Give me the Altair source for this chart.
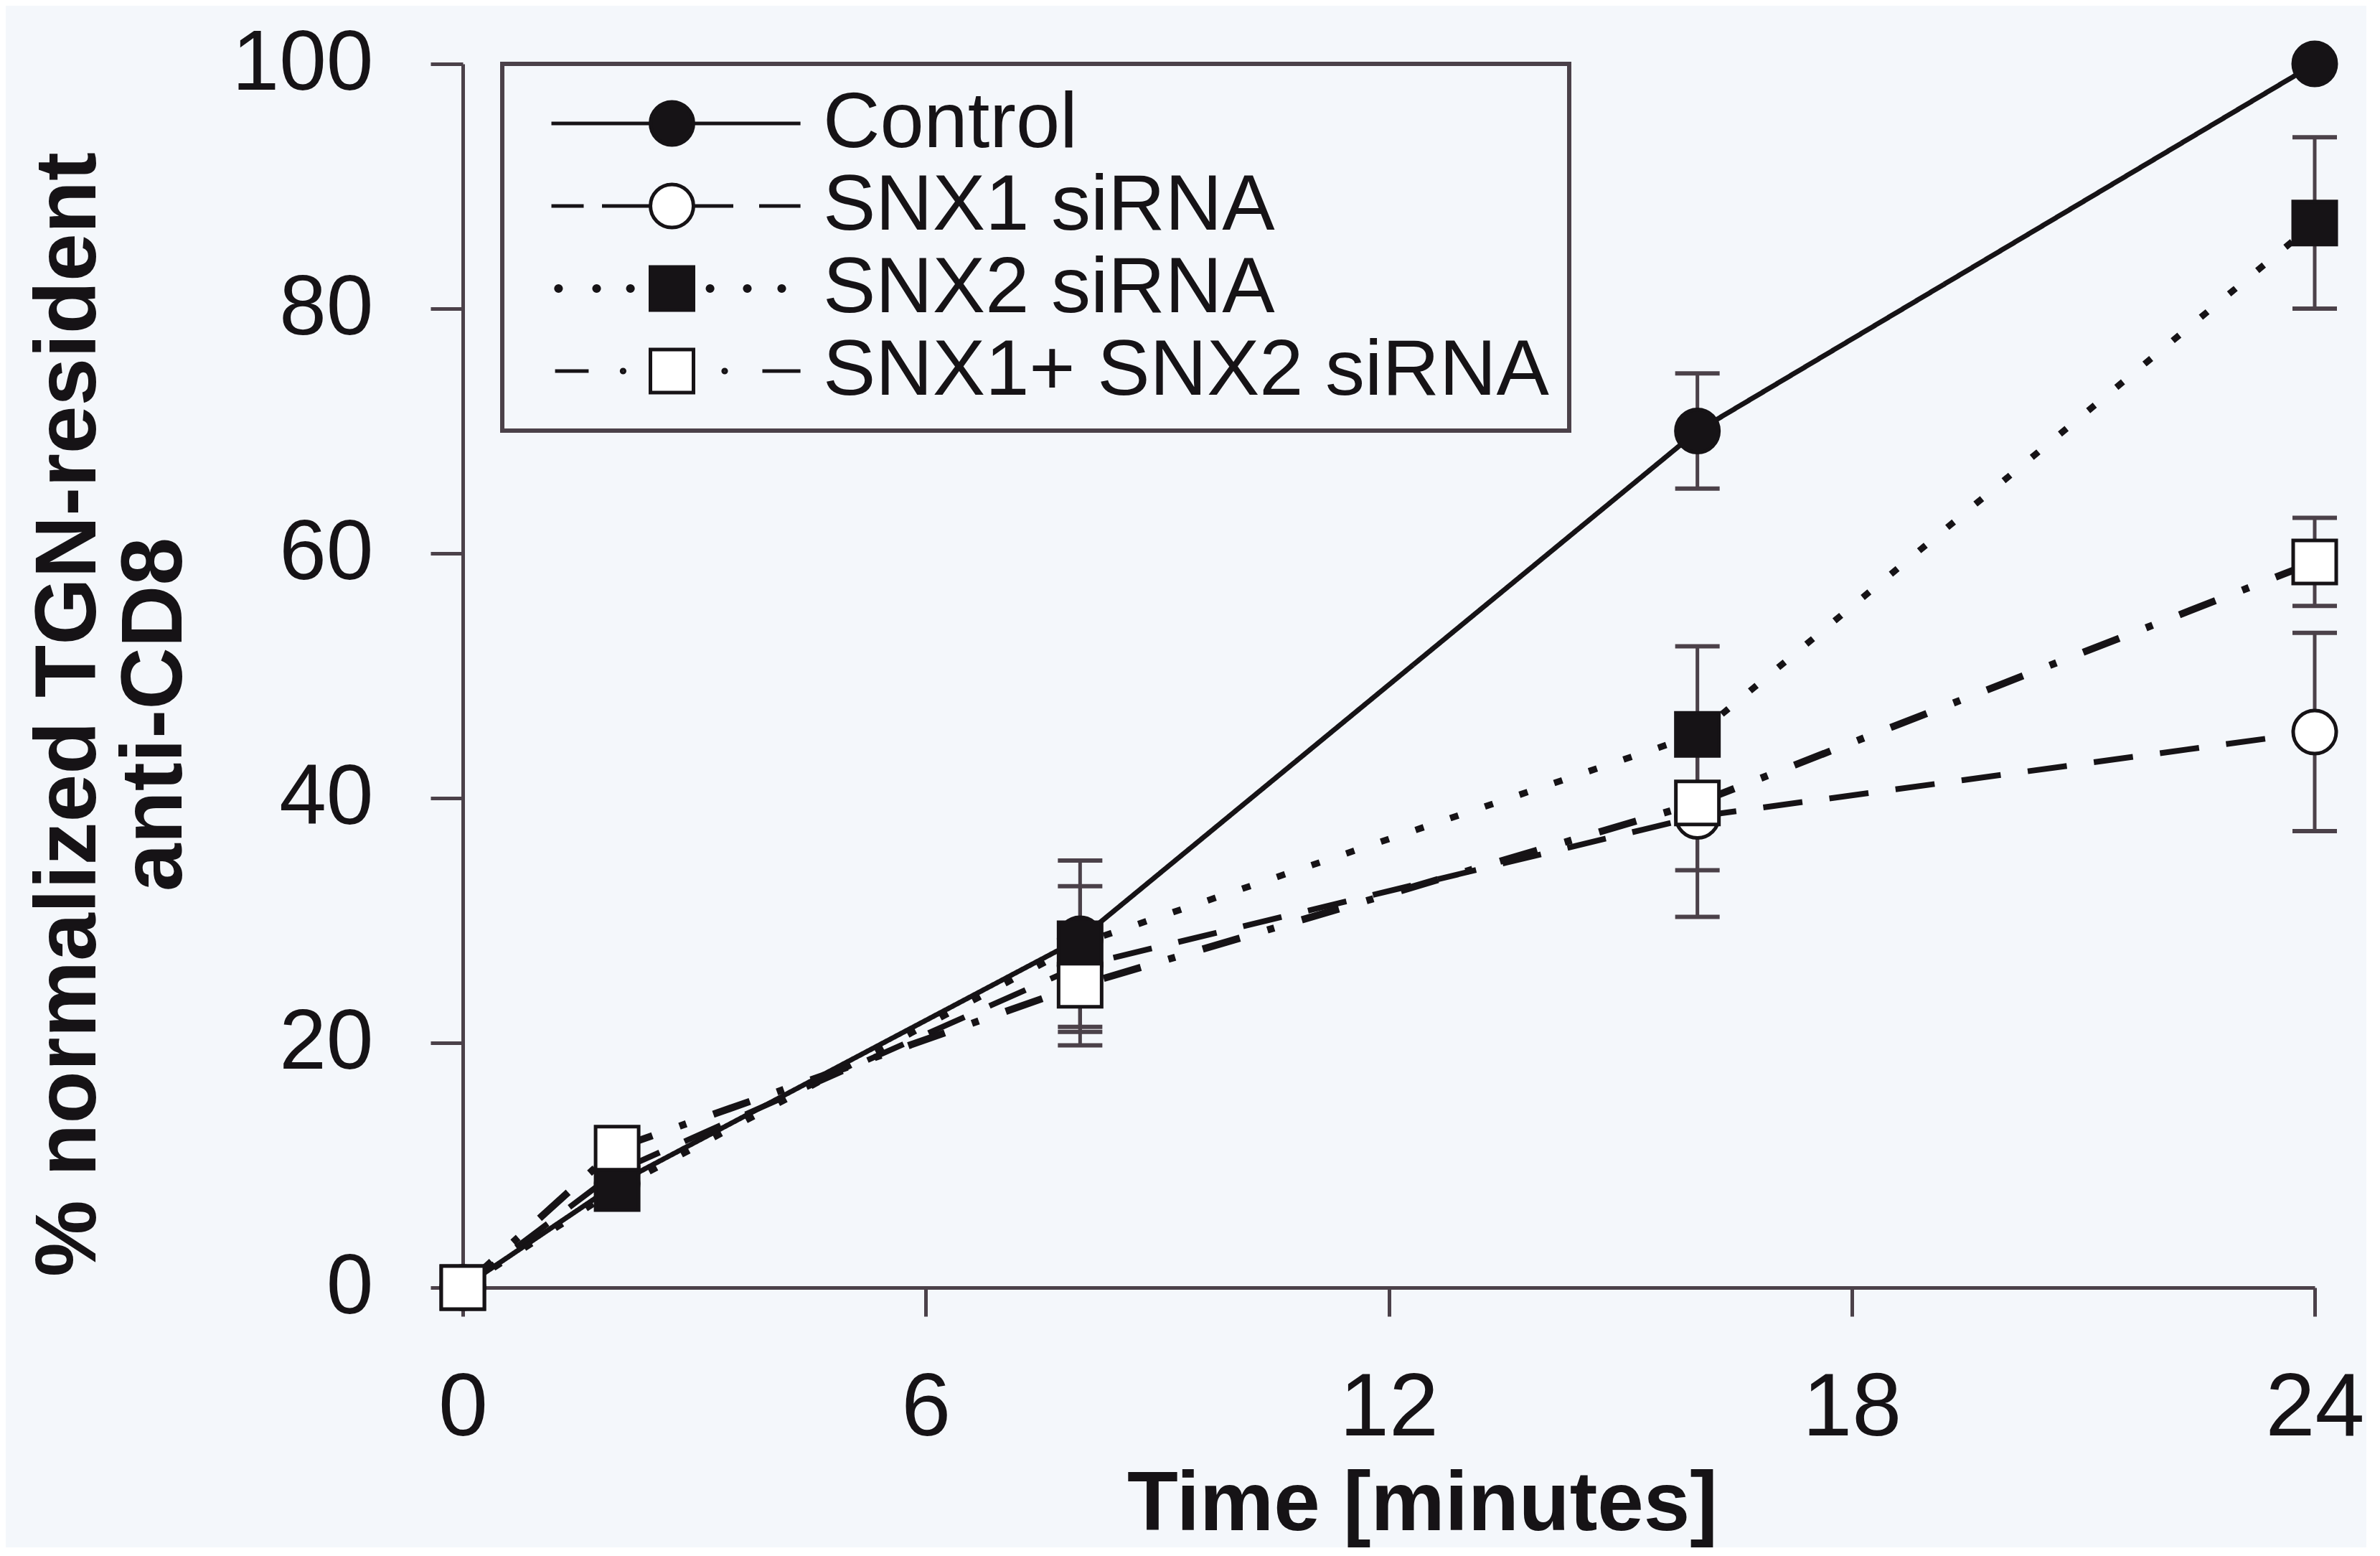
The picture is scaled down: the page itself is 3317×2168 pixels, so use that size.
import altair as alt
import pandas as pd

# ---------------- data ----------------
times = [0, 2, 8, 16, 24]
series = ["Control", "SNX1 siRNA", "SNX2 siRNA", "SNX1+ SNX2 siRNA"]
control = [0, 8.5, 28.5, 70.0, 100.0]
snx1 = [0, 9.5, 26.3, 38.5, 45.4]
snx2 = [0, 8.1, 28.1, 45.2, 87.0]
snx12 = [0, 11.4, 24.7, 39.6, 59.3]
control_err = [0, 0, 0, 4.7, 0]
snx1_err = [0, 0, 6.5, 8.2, 8.1]
snx2_err = [0, 0, 6.8, 7.2, 7.0]
snx12_err = [0, 0, 3.8, 5.5, 3.6]
x_ticks = [0, 6, 12, 18, 24]
y_ticks = [0, 20, 40, 60, 80, 100]
x_title = "Time [minutes]"
y_title = ["% normalized TGN-resident", "anti-CD8"]

values = [control, snx1, snx2, snx12]
errors = [control_err, snx1_err, snx2_err, snx12_err]

rows, err_rows = [], []
for s, vals, errs in zip(series, values, errors):
    for t, v, e in zip(times, vals, errs):
        rows.append({"series": s, "time": t, "value": v})
        if e > 0:
            err_rows.append({"series": s, "time": t, "lo": v - e, "hi": v + e})
df = pd.DataFrame(rows)
err_df = pd.DataFrame(err_rows)

# ---------------- styles ----------------
INK = "#161316"
AXIS = "#4b4149"
BG = "#f4f7fb"
FONT = "Liberation Sans"

dash_range = [[1, 0], [55, 38], [12, 39], [54, 40, 10, 40]]
width_range = [7, 10, 12, 10]
shape_range = ["circle", "circle", "square", "square"]
fill_range = [INK, "white", INK, "white"]
stroke_range = [INK, INK, INK, INK]


def hline(x1, x2):
    return f"M{x1:g} 0H{x2:g}"


def circ(cx, r):
    return (f"M{cx - r:g} 0A{r:g} {r:g} 0 1 0 {cx + r:g} 0"
            f"A{r:g} {r:g} 0 1 0 {cx - r:g} 0Z")


def sq(cx, h):
    return f"M{cx - h:g} {-h:g}H{cx + h:g}V{h:g}H{cx - h:g}Z"


C = 5.85
legend_paths = [
    hline(0.25, 4.85) + hline(6.85, 11.82) + circ(C, 1),
    hline(0.25, 1.75) + hline(2.6, 4.85) + hline(6.85, 8.7) + hline(9.9, 11.82) + circ(C, 1),
    "".join(circ(d, 0.12) for d in [0.58, 2.35, 3.92, 7.62, 9.35, 10.95]) + sq(C, 1),
    hline(0.42, 1.98) + circ(3.58, 0.07) + sq(C, 1) + circ(8.3, 0.07) + hline(10.05, 11.82),
]

xscale = alt.Scale(domain=[0, 24], nice=False, zero=False)
yscale = alt.Scale(domain=[0, 100], nice=False, zero=False)

X = alt.X(
    "time:Q", scale=xscale,
    axis=alt.Axis(
        values=x_ticks, format="d", tickSize=40, labelFontSize=124, labelPadding=67,
        labelFlush=False, labelLimit=1000, labelOverlap=False,
        title=x_title, titleFontSize=116, titleFontWeight="bold",
        titleX=1337, titleY=337, titleBaseline="alphabetic", titleAlign="center",
        titleLimit=3000,
    ),
)
Y = alt.Y(
    "value:Q", scale=yscale,
    axis=alt.Axis(
        values=y_ticks, format="d", tickSize=45, labelFontSize=118, labelPadding=80,
        labelLimit=1000, labelOverlap=False,
        title=y_title, titleFontSize=120, titleFontWeight="bold", titleAngle=270,
        titleX=-513, titleY=906, titleBaseline="alphabetic", titleAlign="center",
        titleLineHeight=120, titleLimit=3000,
    ),
)
Xp = alt.X("time:Q", scale=xscale)
Yp = alt.Y("value:Q", scale=yscale)

base = alt.Chart(df)

lines = base.mark_line(color=INK, strokeCap="butt").encode(
    x=X, y=Y,
    strokeDash=alt.StrokeDash("series:N", scale=alt.Scale(domain=series, range=dash_range), legend=None),
    strokeWidth=alt.StrokeWidth("series:N", scale=alt.Scale(domain=series, range=width_range), legend=None),
)

err_base = alt.Chart(err_df)
bars = err_base.mark_rule(color=AXIS, strokeWidth=5).encode(
    x=Xp, y=alt.Y("lo:Q", scale=yscale), y2="hi:Q"
)
caps = err_base.transform_fold(["lo", "hi"], as_=["end", "value"]).mark_tick(
    orient="horizontal", size=62, thickness=6, color=AXIS, opacity=1
).encode(x=Xp, y=Yp)

points = base.mark_point(size=3600, filled=True, stroke=INK, strokeWidth=5, opacity=1).encode(
    x=Xp, y=Yp,
    shape=alt.Shape("series:N", scale=alt.Scale(domain=series, range=shape_range), legend=None),
    fill=alt.Fill("series:N", scale=alt.Scale(domain=series, range=fill_range), legend=None),
)

leg = alt.Legend(title=None, orient="none", legendX=55, legendY=0, direction="vertical",
                 symbolOpacity=1)
legend_layer = base.transform_filter("false").mark_point(
    size=3600, filled=True, strokeWidth=5, opacity=1
).encode(
    x=Xp, y=Yp,
    shape=alt.Shape("series:N", scale=alt.Scale(domain=series, range=legend_paths), legend=leg),
    fill=alt.Fill("series:N", scale=alt.Scale(domain=series, range=fill_range), legend=leg),
    stroke=alt.Stroke("series:N", scale=alt.Scale(domain=series, range=stroke_range), legend=leg),
)

chart = (
    alt.layer(lines, bars, caps, points, legend_layer)
    .resolve_scale(shape="independent", fill="independent", stroke="independent")
    .properties(
        width=2581, height=1705,
        autosize=alt.AutoSizeParams(type="none"),
        padding={"left": 637, "top": 81, "right": 72, "bottom": 362},
        background=BG,
    )
    .configure_view(strokeWidth=0)
    .configure_axis(
        domainColor=AXIS, domainWidth=5, tickColor=AXIS, tickWidth=5,
        labelColor=INK, titleColor=INK, labelFont=FONT, titleFont=FONT, grid=False,
    )
    .configure_legend(
        padding=28, rowPadding=5, symbolSize=3600, symbolStrokeWidth=5,
        symbolOpacity=1, symbolOffset=-22, labelOffset=331, labelFontSize=110,
        labelFont=FONT, labelColor=INK, labelLimit=2000, strokeColor=AXIS, strokeWidth=6,
    )
)

chart.save("out.html", embed_options={"renderer": "svg", "actions": False})
